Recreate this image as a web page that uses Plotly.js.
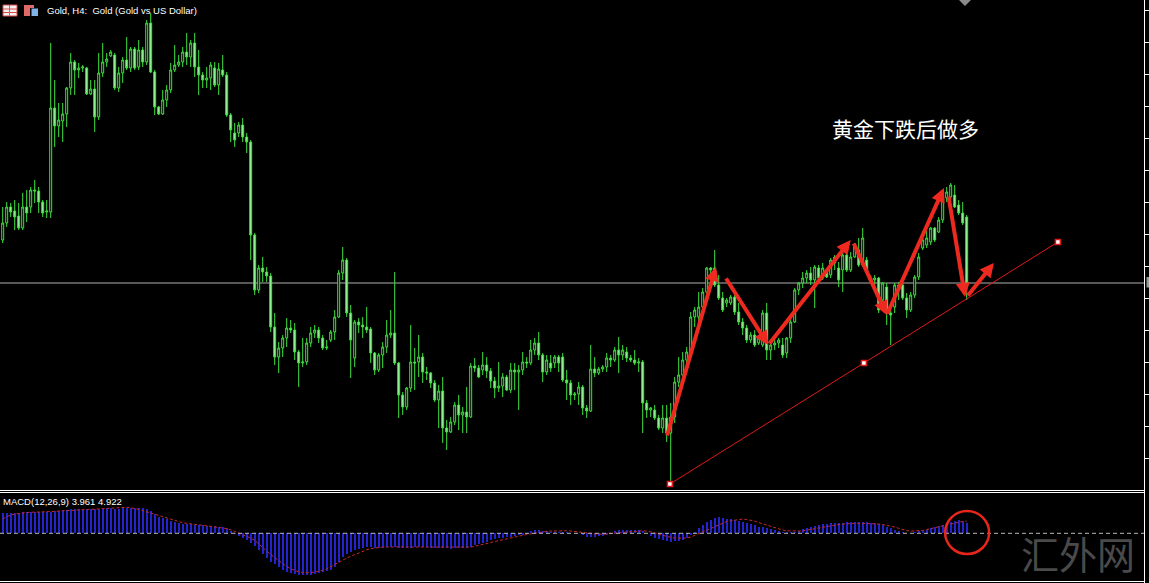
<!DOCTYPE html>
<html><head><meta charset="utf-8">
<script src="https://cdn.plot.ly/plotly-3.0.1.min.js"></script>
<style>html,body{margin:0;padding:0;background:#000;overflow:hidden}#chart{width:1149px;height:583px}</style>
</head><body><div id="chart"></div>
<script>
// ---- Gold H4 candles (price) ----
const openP = [
1296.0,1297.7,1299.3,1298.9,1298.4,1297.2,1299.3,1299.3,1301.0,1300.9,
1299.8,1298.8,1298.8,1309.2,1307.4,1307.9,1308.6,1311.2,1313.8,1313.0,
1313.2,1313.2,1310.6,1311.1,1308.3,1312.7,1313.8,1314.4,1314.5,1311.2,
1312.7,1314.0,1313.2,1315.1,1313.3,1315.0,1313.8,1317.7,1312.8,1309.3,
1308.6,1310.0,1311.0,1313.0,1313.5,1313.8,1314.8,1314.3,1315.7,1313.3,
1312.5,1312.0,1312.2,1313.2,1311.5,1313.0,1312.5,1308.5,1306.7,1306.7,
1307.5,1306.3,1305.8,1296.5,1291.0,1293.2,1292.8,1292.4,1287.3,1284.3,
1285.2,1286.2,1287.2,1287.0,1284.8,1283.7,1283.8,1285.7,1286.7,1287.0,
1286.2,1285.2,1286.0,1286.8,1288.3,1292.7,1294.0,1288.7,1284.2,1287.8,
1287.5,1287.3,1287.1,1284.7,1283.0,1284.5,1285.3,1286.5,1286.7,1283.7,
1280.5,1279.3,1281.2,1283.8,1283.8,1284.3,1282.8,1282.7,1281.7,1280.0,
1280.9,1277.2,1276.8,1277.8,1279.5,1278.5,1278.8,1278.3,1283.4,1283.2,
1283.0,1283.5,1282.9,1281.9,1281.2,1281.4,1282.3,1281.0,1283.0,1282.8,
1283.0,1283.8,1283.7,1285.0,1285.7,1284.5,1282.8,1283.7,1283.7,1284.3,
1284.3,1282.0,1281.7,1280.5,1280.6,1281.3,1279.2,1278.9,1283.1,1282.7,
1283.1,1283.3,1284.2,1284.0,1285.0,1284.5,1284.8,1284.2,1284.0,1283.7,
1283.8,1279.7,1279.0,1279.0,1278.2,1277.2,1278.2,1276.7,1278.3,1281.8,
1282.5,1284.0,1284.8,1288.3,1288.3,1289.3,1290.8,1293.2,1293.2,1291.5,
1290.2,1289.7,1289.7,1290.3,1288.8,1287.8,1287.2,1286.0,1286.5,1285.7,
1285.5,1288.7,1285.0,1285.5,1285.7,1285.5,1284.7,1286.2,1287.8,1291.0,
1291.7,1292.2,1292.7,1292.0,1293.2,1292.2,1293.0,1292.5,1293.7,1293.2,
1293.0,1294.5,1293.0,1294.3,1295.0,1293.5,1294.0,1292.2,1292.0,1292.2,
1290.0,1291.3,1288.7,1289.3,1291.5,1291.5,1290.2,1289.0,1290.5,1292.3,
1295.2,1295.5,1295.8,1297.2,1296.8,1298.0,1300.2,1300.3,1300.5,1299.5,
1298.7,1298.3];
const highP = [
1299.3,1299.8,1299.7,1300.0,1299.7,1300.7,1301.0,1301.3,1302.0,1301.3,
1300.0,1300.0,1315.7,1312.0,1309.7,1309.7,1311.3,1314.7,1314.0,1313.7,
1313.5,1313.3,1312.0,1312.0,1314.7,1315.7,1314.7,1315.0,1314.7,1313.3,
1314.3,1316.3,1315.3,1315.3,1316.0,1315.3,1318.0,1318.7,1313.0,1309.4,
1311.0,1311.5,1313.7,1315.5,1314.5,1315.3,1316.7,1316.0,1316.7,1315.0,
1312.8,1313.3,1313.8,1313.8,1313.7,1314.5,1312.8,1308.7,1307.7,1307.8,
1308.2,1306.7,1306.0,1296.7,1293.5,1294.3,1293.3,1292.7,1288.7,1285.8,
1286.5,1288.2,1288.0,1287.7,1285.0,1286.2,1286.2,1287.3,1287.5,1287.3,
1286.5,1286.0,1287.0,1289.0,1293.0,1295.3,1294.2,1289.5,1288.0,1288.2,
1288.3,1289.3,1287.3,1284.8,1284.7,1285.8,1288.0,1289.0,1292.8,1283.8,
1280.8,1281.3,1287.5,1285.2,1286.5,1284.7,1283.3,1282.8,1282.0,1281.5,
1282.3,1278.0,1278.3,1279.8,1280.5,1279.3,1281.3,1283.7,1284.2,1283.5,
1284.8,1284.3,1283.2,1282.3,1283.8,1282.7,1282.5,1283.7,1283.7,1283.5,
1284.8,1284.3,1286.0,1286.2,1286.8,1284.7,1284.5,1284.5,1284.5,1284.5,
1284.7,1283.0,1282.0,1280.8,1281.8,1281.5,1279.5,1285.5,1284.3,1283.3,
1283.5,1284.7,1284.5,1285.3,1286.3,1285.5,1285.3,1284.5,1285.0,1284.2,
1284.0,1280.0,1279.3,1279.5,1278.5,1279.5,1279.5,1279.7,1282.3,1284.3,
1284.8,1285.3,1288.8,1289.3,1290.8,1291.2,1293.3,1293.3,1295.0,1292.5,
1290.8,1290.2,1290.5,1290.5,1289.7,1288.2,1287.5,1286.8,1287.0,1286.5,
1289.0,1289.7,1285.7,1286.0,1286.2,1286.2,1286.3,1288.2,1291.2,1291.8,
1292.8,1293.0,1293.3,1293.5,1293.5,1293.7,1293.2,1294.2,1294.5,1293.8,
1294.8,1294.7,1294.8,1295.7,1296.2,1297.2,1294.3,1292.5,1292.5,1292.3,
1291.8,1291.7,1289.0,1291.7,1291.8,1291.7,1290.7,1290.8,1292.5,1294.7,
1296.2,1297.0,1297.3,1297.3,1298.3,1300.3,1301.3,1301.7,1301.5,1300.0,
1299.8,1298.5];
const lowP = [
1295.7,1297.3,1298.3,1297.0,1297.0,1297.0,1297.8,1298.7,1299.7,1298.7,
1298.3,1298.2,1298.2,1305.3,1306.3,1305.8,1307.3,1310.5,1310.5,1312.2,
1312.8,1310.5,1310.5,1306.8,1308.0,1312.3,1313.3,1314.3,1311.0,1310.8,
1311.7,1313.0,1312.8,1313.0,1313.0,1313.3,1313.5,1312.7,1308.5,1308.5,
1308.5,1309.3,1310.7,1312.8,1313.3,1313.3,1313.5,1313.3,1312.3,1310.5,
1311.2,1311.2,1311.0,1311.3,1310.5,1312.3,1308.3,1305.8,1305.3,1306.3,
1305.8,1304.7,1294.0,1290.5,1290.7,1291.8,1291.8,1286.8,1283.5,1282.7,
1284.3,1285.3,1286.7,1284.0,1281.3,1283.3,1283.5,1285.3,1286.2,1285.7,
1285.0,1285.0,1285.8,1286.0,1288.2,1292.0,1288.3,1282.2,1283.3,1286.7,
1286.2,1286.7,1283.7,1282.5,1282.8,1283.2,1284.7,1286.2,1283.5,1278.2,
1278.5,1279.0,1280.8,1281.0,1282.3,1281.7,1282.0,1281.2,1279.8,1277.2,
1275.7,1275.0,1276.7,1277.5,1277.0,1276.7,1276.7,1278.2,1282.8,1282.2,
1282.5,1282.2,1281.2,1280.2,1280.8,1280.3,1280.9,1280.7,1281.0,1279.0,
1282.5,1283.2,1283.5,1284.5,1284.0,1281.8,1282.5,1282.8,1283.2,1282.8,
1281.8,1280.0,1279.5,1280.0,1279.5,1278.5,1278.2,1278.8,1282.3,1282.5,
1282.8,1282.8,1283.3,1283.8,1282.7,1284.0,1283.8,1283.8,1283.5,1282.8,
1276.7,1278.2,1278.3,1278.0,1277.0,1276.7,1275.8,1271.7,1277.7,1281.3,
1282.3,1282.8,1284.2,1287.3,1287.7,1289.2,1290.7,1291.7,1291.3,1290.0,
1288.8,1289.3,1289.5,1288.5,1287.5,1286.5,1285.7,1285.7,1285.3,1285.5,
1285.3,1284.0,1284.0,1285.0,1285.2,1284.2,1284.2,1285.7,1287.7,1290.5,
1291.2,1291.7,1291.5,1289.2,1292.0,1292.0,1292.2,1292.2,1293.0,1291.3,
1290.8,1292.8,1292.8,1294.2,1293.3,1293.3,1292.7,1291.8,1291.5,1288.7,
1289.7,1287.5,1285.5,1288.7,1290.0,1290.0,1288.2,1288.8,1290.2,1292.0,
1295.0,1295.2,1295.5,1295.8,1296.7,1297.7,1299.8,1300.0,1299.2,1298.5,
1297.5,1290.0];
const closeP = [
1297.7,1299.3,1298.8,1298.3,1297.2,1299.3,1298.7,1301.0,1300.9,1299.8,
1298.7,1298.9,1309.2,1307.4,1308.0,1308.6,1311.2,1313.8,1313.0,1313.2,
1313.3,1310.6,1311.1,1308.3,1312.7,1313.8,1314.1,1314.8,1311.2,1312.7,
1314.0,1313.2,1315.1,1313.2,1315.0,1313.8,1317.7,1312.8,1309.3,1308.6,
1310.0,1311.0,1313.0,1313.5,1313.8,1314.8,1314.3,1315.7,1313.3,1312.5,
1312.0,1312.2,1313.5,1311.5,1313.1,1312.5,1308.5,1307.0,1306.0,1307.5,
1306.3,1305.8,1296.5,1291.0,1293.2,1292.8,1292.4,1287.3,1284.3,1285.2,
1286.2,1287.2,1287.0,1284.8,1283.7,1283.8,1285.7,1286.7,1287.0,1286.2,
1285.2,1285.3,1286.8,1288.3,1292.7,1294.0,1288.7,1286.0,1287.8,1287.5,
1287.3,1287.0,1284.7,1283.0,1284.5,1285.3,1286.5,1286.7,1283.7,1280.5,
1279.3,1281.2,1283.8,1283.7,1284.3,1282.8,1282.7,1281.7,1280.0,1280.9,
1277.2,1276.8,1277.8,1279.5,1278.5,1278.8,1278.3,1283.4,1283.2,1282.3,
1283.5,1282.9,1281.9,1281.2,1281.4,1282.3,1281.0,1283.0,1282.8,1283.0,
1283.8,1283.7,1285.0,1285.7,1284.5,1282.8,1284.0,1283.2,1284.3,1283.7,
1282.0,1281.7,1280.5,1280.6,1281.3,1279.2,1278.9,1283.1,1282.7,1283.1,
1283.3,1284.2,1284.0,1285.0,1284.5,1285.0,1284.2,1284.0,1283.7,1283.8,
1279.7,1279.0,1279.2,1278.2,1277.2,1278.2,1276.7,1278.3,1281.8,1282.5,
1284.0,1284.8,1288.3,1289.0,1289.3,1290.8,1293.2,1293.0,1291.5,1290.2,
1289.0,1290.0,1290.3,1288.8,1287.8,1287.2,1286.0,1286.5,1285.5,1286.2,
1288.7,1285.0,1285.5,1285.7,1286.0,1284.5,1286.2,1287.8,1291.0,1291.7,
1292.2,1292.7,1292.0,1293.3,1292.2,1293.2,1292.3,1294.0,1294.3,1292.0,
1294.5,1293.0,1294.3,1295.3,1293.5,1296.2,1293.0,1292.0,1292.2,1289.0,
1291.7,1288.7,1288.5,1291.5,1291.0,1290.2,1289.0,1290.5,1292.3,1294.3,
1296.0,1296.2,1297.2,1296.0,1298.0,1300.2,1300.8,1301.5,1299.3,1298.7,
1297.7,1291.7];

// ---- MACD(12,26,9) ----
const macdMain = [
8.0,8.1,8.2,8.3,8.3,8.4,8.4,8.5,8.5,8.5,8.4,8.4,8.6,8.9,9.1,
9.3,9.5,9.7,9.8,9.9,9.9,9.8,9.7,9.7,9.8,9.9,10.0,10.0,9.9,9.9,
10.0,10.1,10.2,10.2,10.2,10.0,9.6,9.0,7.6,
6.6,6.0,5.6,4.9,4.6,4.1,3.9,3.7,3.7,3.5,3.3,3.2,3.1,2.9,2.8,2.7,2.5,2.2,
1.0,-0.3,-1.1,-1.9,-2.7,-3.7,-5.1,-6.7,-8.3,-9.9,-11.3,-12.3,-13.5,-14.5,-15.3,-15.9,-16.4,-16.7,-16.7,-16.7,-16.5,-16.3,-15.9,-15.5,-15.1,
-14.7,-13.5,-11.5,-9.5,-8.3,-7.5,-6.7,-6.3,-5.9,-5.5,-5.5,-5.7,-5.8,
-5.7,-5.6,-5.5,-5.6,-5.8,-6.0,-5.9,-5.7,-5.6,-5.5,-5.5,-5.6,-5.7,-5.8,-5.9,-6.0,
-6.0,-6.1,-6.0,-5.9,-5.8,-5.7,
-5.4,-4.7,-4.3,-3.9,-3.3,-2.7,-2.3,-1.9,-1.7,-1.5,-1.4,-1.1,-0.8,-0.7,-0.3,
0.9,1.3,1.3,1.1,0.9,0.7,0.6,0.6,0.5,0.4,0.2,0.1,0.0,
-0.7,-1.3,-1.4,-1.3,-1.1,-0.9,-0.7,-0.3,
0.9,1.3,1.3,1.5,1.5,1.3,1.3,0.9,0.1,
-1.1,-1.9,-2.3,-2.7,-3.1,-3.3,-3.1,-2.9,-2.5,-1.7,-0.5,
0.7,2.1,3.3,4.7,5.5,6.3,6.6,6.3,5.9,5.7,5.3,4.9,4.5,4.1,3.7,3.3,2.7,2.5,2.1,1.9,1.5,1.1,0.7,0.5,0.4,
0.5,1.1,1.7,2.3,2.6,3.1,3.5,3.7,3.9,4.0,4.1,4.2,4.3,4.4,4.4,4.4,4.4,4.4,4.4,4.3,4.1,3.7,3.3,2.7,2.1,1.5,1.1,0.7,0.3,0.1,
0.5,0.9,1.1,1.5,2.0,2.5,3.1,3.5,4.1,4.6,5.1,5.3,4.9,4.0];
const macdSignal = [
5.8,6.6,7.3,7.7,8.0,8.2,8.3,8.4,8.4,8.5,
8.6,8.6,8.7,8.8,8.9,8.9,9.0,9.1,9.2,9.3,
9.4,9.4,9.5,9.5,9.6,9.7,9.8,9.9,10.0,10.2,
10.4,10.4,10.2,10.0,9.6,9.1,8.6,8.0,7.5,7.0,
6.5,6.0,5.4,4.9,4.5,4.2,4.0,3.8,3.6,3.5,
3.4,3.2,3.0,2.8,2.6,2.3,1.9,1.4,0.8,0.2,
-0.4,-1.1,-1.9,-2.8,-4.2,-5.9,-7.3,-8.5,-9.7,-11.0,
-12.3,-13.3,-14.2,-14.9,-15.4,-15.7,-15.8,-15.7,-15.5,-15.2,
-14.8,-14.2,-13.3,-12.4,-11.6,-10.7,-9.9,-9.2,-8.5,-7.8,
-7.2,-6.6,-6.1,-5.8,-5.6,-5.5,-5.5,-5.4,-5.4,-5.4,
-5.4,-5.5,-5.5,-5.5,-5.4,-5.4,-5.4,-5.4,-5.5,-5.5,
-5.5,-5.5,-5.6,-5.6,-5.6,-5.6,-5.6,-5.5,-5.2,-4.9,
-4.5,-4.1,-3.7,-3.3,-2.9,-2.5,-2.2,-1.8,-1.5,-1.1,
-0.8,-0.5,-0.2,0.1,0.4,0.6,0.8,0.9,1.0,1.0,
1.0,1.0,0.9,0.7,0.4,0.1,-0.1,-0.2,-0.3,-0.4,
-0.4,-0.3,-0.3,-0.1,0.1,0.3,0.5,0.7,0.9,1.0,
1.0,0.9,0.6,0.2,-0.4,-0.9,-1.3,-1.6,-1.9,-2.0,
-2.0,-1.9,-1.5,-0.8,-0.2,0.6,1.4,2.1,2.9,3.6,
4.2,4.7,5.0,5.3,5.6,5.7,5.5,5.3,4.9,4.3,
3.8,3.1,2.6,2.1,1.7,1.3,1.0,0.9,0.9,0.9,
1.0,1.3,1.6,2.0,2.3,2.5,2.8,3.0,3.2,3.5,
3.7,3.9,4.0,4.0,4.0,4.0,4.0,4.0,3.9,3.7,
3.5,3.2,3.0,2.5,2.0,1.5,1.1,0.9,0.9,0.9,
1.1,1.5,1.9,2.2,2.5,2.8,3.3,3.7,4.1,4.4,
4.7,4.9];

// ---- drawn objects (trend line, arrows, notes) ----
const trendX = [166.8, 215.3, 263.8];
const trendY = [1271.6, 1283.7, 1295.8];
const arrowTailX = [166.0, 180.6, 191.4, 212.6, 221.0, 236.4, 241.0];
const arrowTailY = [1276.3, 1292.3, 1285.5, 1295.8, 1288.5, 1300.5, 1290.3];
const arrowHeadX = [178.3, 191.4, 212.0, 221.0, 235.3, 240.6, 247.8];
const arrowHeadY = [1293.3, 1285.5, 1296.0, 1288.5, 1301.2, 1290.3, 1293.7];
const circleX = [235.6, 246.6];
const circleY = [-8.3, 8.9];
const noteText = '黄金下跌后做多';
const noteX = 225.6, noteY = 1307.2;
const titleText = 'Gold, H4:\u00a0 Gold (Gold vs US Dollar)';
const macdLabel = 'MACD(12,26,9) 3.961 4.922';
const watermark = '汇外网';

const idx = closeP.map((_, i) => i);
const G = '#3fe03f';
const PW = 1144, PH = 583;
const px = x => x / PW;
const py = y => 1 - y / PH;

const traces = [
  {type:'candlestick', x: idx, open: openP, high: highP, low: lowP, close: closeP,
   increasing:{line:{color:G, width:1}, fillcolor:'#000000'},
   decreasing:{line:{color:G, width:1}, fillcolor:'#a6f2a6'},
   whiskerwidth:0, hoverinfo:'skip', xaxis:'x', yaxis:'y'},
  {type:'scatter', mode:'lines+markers', x: trendX, y: trendY,
   line:{color:'#e01818', width:1},
   marker:{symbol:'square', size:5, color:'#ffffff', line:{color:'#e01818', width:1.5}},
   hoverinfo:'skip', xaxis:'x', yaxis:'y'},
  {type:'bar', x: idx, y: macdMain, width:0.45, marker:{color:'#2323d0', line:{width:0}},
   hoverinfo:'skip', xaxis:'x', yaxis:'y2'},
  {type:'scatter', mode:'lines', x: idx, y: macdSignal,
   line:{color:'#c8282d', width:1, dash:'3px,2px'}, hoverinfo:'skip', xaxis:'x', yaxis:'y2'}
];

const lastClose = closeP[closeP.length - 1];
const shapes = [
  {type:'line', xref:'paper', yref:'y', x0:0, x1:1, y0:lastClose, y1:lastClose, line:{color:'#b0b0b0', width:1}, layer:'below'},
  {type:'line', xref:'paper', yref:'y2', x0:0, x1:1, y0:0, y1:0, line:{color:'#b8b8b8', width:1, dash:'4px,3px'}},
  {type:'line', xref:'paper', yref:'paper', x0:0, x1:1, y0:py(490.5), y1:py(490.5), line:{color:'#ffffff', width:1}},
  {type:'line', xref:'paper', yref:'paper', x0:0, x1:1, y0:py(492.5), y1:py(492.5), line:{color:'#ffffff', width:1}},
  {type:'line', xref:'paper', yref:'paper', x0:0, x1:1, y0:py(581.5), y1:py(581.5), line:{color:'#ffffff', width:1}},
  {type:'line', xref:'paper', yref:'paper', x0:px(1144.5), x1:px(1144.5), y0:0, y1:1, line:{color:'#ffffff', width:1}},
  {type:'circle', xref:'x', yref:'y2', x0:circleX[0], x1:circleX[1], y0:circleY[0], y1:circleY[1], line:{color:'#e8261c', width:2.5}},
  {type:'rect', xref:'paper', yref:'paper', x0:px(1146.5), x1:px(1149.5), y0:py(287.5), y1:py(277), fillcolor:'#9a9a9a', line:{width:0}},
  {type:'path', xref:'paper', yref:'paper', path:'M '+px(959)+' '+py(0)+' L '+px(971)+' '+py(0)+' L '+px(965)+' '+py(6)+' Z', fillcolor:'#8a8a8a', line:{width:0}},
  // window icons
  {type:'rect', xref:'paper', yref:'paper', x0:px(3), x1:px(17), y0:py(16), y1:py(5), fillcolor:'#f4f0f0', line:{color:'#d84a4a', width:1}},
  {type:'line', xref:'paper', yref:'paper', x0:px(3), x1:px(17), y0:py(9), y1:py(9), line:{color:'#d84a4a', width:1}},
  {type:'line', xref:'paper', yref:'paper', x0:px(3), x1:px(17), y0:py(12.5), y1:py(12.5), line:{color:'#d84a4a', width:1}},
  {type:'line', xref:'paper', yref:'paper', x0:px(9.5), x1:px(9.5), y0:py(16), y1:py(5), line:{color:'#5a86d8', width:1}},
  {type:'rect', xref:'paper', yref:'paper', x0:px(24), x1:px(30), y0:py(16), y1:py(5), fillcolor:'#e06a6a', line:{width:0}},
  {type:'rect', xref:'paper', yref:'paper', x0:px(27), x1:px(34), y0:py(8), y1:py(5), fillcolor:'#e06a6a', line:{width:0}},
  {type:'rect', xref:'paper', yref:'paper', x0:px(31.5), x1:px(38), y0:py(16), y1:py(8.5), fillcolor:'#80b2e6', line:{width:0}}
];

const annotations = [
  {xref:'paper', yref:'paper', x:px(45), y:py(10.5), xanchor:'left', yanchor:'middle', text:titleText, showarrow:false,
   font:{family:'Liberation Sans, Arial, sans-serif', size:9.5, color:'#ffffff'}},
  {xref:'paper', yref:'paper', x:px(1), y:py(501), xanchor:'left', yanchor:'middle', text:macdLabel, showarrow:false,
   font:{family:'Liberation Sans, Arial, sans-serif', size:9.5, color:'#ffffff'}},
  {xref:'x', yref:'y', x:noteX, y:noteY, xanchor:'center', yanchor:'middle', text:noteText, showarrow:false,
   font:{family:'Noto Sans CJK SC, sans-serif', size:21, color:'#ffffff'}},
  {xref:'paper', yref:'paper', x:px(1078), y:py(552), xanchor:'center', yanchor:'middle', text:watermark, showarrow:false,
   font:{family:'Noto Sans CJK SC, sans-serif', size:38, color:'#4a4a4a'}}
];
for (let k = 0; k < arrowHeadX.length; k++) {
  annotations.push({xref:'x', yref:'y', axref:'x', ayref:'y', x:arrowHeadX[k], y:arrowHeadY[k],
    ax:arrowTailX[k], ay:arrowTailY[k], text:'', showarrow:true, arrowhead:2, arrowsize:0.7,
    arrowwidth:4, arrowcolor:'#ee2a20', standoff:0});
}

const layout = {
  width:1149, height:583, margin:{l:0, r:5, t:0, b:0, pad:0},
  paper_bgcolor:'#000000', plot_bgcolor:'#000000', showlegend:false, hovermode:false, bargap:0,
  xaxis:{range:[-0.675, 285.325], showgrid:false, zeroline:false, showticklabels:false, ticks:'',
         showline:false, rangeslider:{visible:false}, fixedrange:true, anchor:'y'},
  yaxis:{domain:[1 - 489/583, 1], range:[1271.1, 1320], side:'right', showgrid:false, zeroline:false,
         showticklabels:false, ticks:'outside', ticklen:5, tickcolor:'#ffffff', tickwidth:1,
         tick0:1318.95, dtick:3.2, showline:false, fixedrange:true},
  yaxis2:{domain:[2/583, 90/583], range:[-19.08, 16.12], side:'right', showgrid:false, zeroline:false,
          showticklabels:false, ticks:'', showline:false, anchor:'x', fixedrange:true},
  shapes: shapes, annotations: annotations
};

Plotly.newPlot('chart', traces, layout, {staticPlot:true, displayModeBar:false});
</script></body></html>
